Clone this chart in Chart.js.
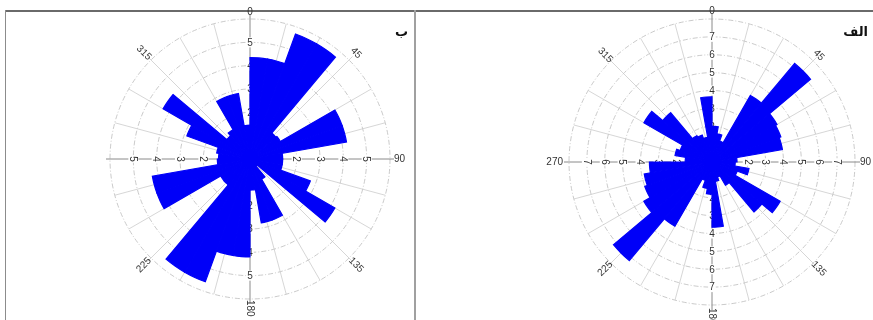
<!DOCTYPE html>
<html>
<head>
<meta charset="utf-8">
<script src="https://cdn.jsdelivr.net/npm/chart.js@4.4.1/dist/chart.umd.min.js"></script>
<style>
  html, body { margin: 0; padding: 0; background: #fff; }
  body { width: 873px; height: 320px; position: relative; overflow: hidden; }
  canvas { position: absolute; top: 0; }
  .rule { position: absolute; background: #8c8c8c; }
  .title { position: absolute; font: bold 13px "DejaVu Sans", sans-serif; color: #111; direction: rtl; white-space: nowrap; }
</style>
</head>
<body>
<div class="rule" style="left:5px; top:10px; width:868px; height:1.5px; background:#6a6a6a;"></div>
<div class="rule" style="left:5px; top:10px; width:1.2px; height:310px;"></div>
<div class="rule" style="left:414px; top:10px; width:1.5px; height:310px; background:#a0a0a0;"></div>
<canvas id="roseB" width="415" height="320" style="left:0;"></canvas>
<canvas id="roseA" width="458" height="320" style="left:415px;"></canvas>
<div class="title" style="left:395px; top:24px;">ب</div>
<div class="title" style="right:5px; top:24px;">الف</div>
<script>
// Direction bins (start of each 10° class, clockwise from north)
const binStarts = [0, 10, 20, 30, 40, 50, 60, 70, 80, 90, 100, 110,
                   120, 130, 140, 150, 160, 170, 180, 190, 200, 210, 220, 230,
                   240, 250, 260, 270, 280, 290, 300, 310, 320, 330, 340, 350];

// Frequencies per bin, panel "ب"
const countsB = [4.35, 4.35, 5.7, 5.7, 1.45, 1.5, 4.2, 4.2, 1.4, 1.4, 1.4, 2.75,
                 4.2, 0.4, 1.0, 2.78, 2.78, 1.33, 4.2, 4.2, 5.6, 5.6, 1.45, 1.45,
                 4.25, 4.25, 1.4, 1.35, 1.45, 2.88, 4.3, 1.3, 1.45, 2.85, 2.85, 1.45];

// Frequencies per bin, panel "الف"
const countsA = [2.0, 1.6, 1.25, 4.3, 7.2, 4.2, 4.1, 4.0, 1.4, 1.3, 2.1, 1.5,
                 4.4, 3.65, 1.5, 0.9, 1.1, 3.65, 1.8, 1.5, 1.1, 4.15, 7.2, 4.4,
                 4.0, 3.85, 3.5, 1.5, 2.1, 1.9, 4.4, 3.6, 1.7, 1.6, 1.4, 3.65];

// Radial tick labels and outer limits
const ticksB = [1, 2, 3, 4, 5];
const ticksA = [1, 2, 3, 4, 5, 6, 7];
const maxB = 6;
const maxA = 8;

// Compass labels
const axisLabels = ['0', '90', '180', '270'];
const diagonalLabels = ['45', '135', '225', '315'];

const BLUE = 'rgb(0, 0, 248)';
const TICK_FONT = '10px "Liberation Sans", Arial, sans-serif';

function compassPlugin(cfg) {
  return {
    id: 'compass',
    beforeDatasetsDraw(chart) {
      const s = chart.scales.r;
      const ctx = chart.ctx;
      const cx = s.xCenter, cy = s.yCenter, R = s.drawingArea;
      const pt = (deg, r) => {
        const a = deg * Math.PI / 180;
        return [cx + r * Math.sin(a), cy - r * Math.cos(a)];
      };
      ctx.save();

      // light spokes every 15 degrees
      ctx.strokeStyle = '#cbcbcb';
      ctx.lineWidth = 0.8;
      for (let deg = 0; deg < 360; deg += 15) {
        if (deg % 90 === 0) continue;
        const ext = deg % 45 === 0 ? 5 : 0;
        const [x2, y2] = pt(deg, R + ext);
        ctx.beginPath();
        ctx.moveTo(cx, cy);
        ctx.lineTo(x2, y2);
        ctx.stroke();
      }

      // main axes
      ctx.strokeStyle = '#8a8a8a';
      ctx.lineWidth = 1;
      [0, 90, 180, 270].forEach((deg) => {
        const [x2, y2] = pt(deg, R + cfg.axisExt);
        ctx.beginPath();
        ctx.moveTo(cx, cy);
        ctx.lineTo(x2, y2);
        ctx.stroke();
      });

      // radial tick labels on the four half axes
      ctx.font = TICK_FONT;
      ctx.textAlign = 'center';
      ctx.textBaseline = 'middle';
      cfg.ticks.forEach((v) => {
        const d = s.getDistanceFromCenterForValue(v);
        const txt = String(v);
        const w = ctx.measureText(txt).width;
        [0, 90, 180, 270].forEach((deg) => {
          const [x, y] = pt(deg, d);
          ctx.save();
          ctx.translate(x, y);
          if (deg === 90 || deg === 270) ctx.rotate(Math.PI / 2);
          ctx.fillStyle = '#fff';
          ctx.fillRect(-w / 2 - 1, -5, w + 2, 10);
          ctx.fillStyle = '#333';
          ctx.fillText(txt, 0, 0.5);
          ctx.restore();
        });
      });

      // compass labels
      ctx.fillStyle = '#333';
      {
        const [x, y] = pt(0, R + cfg.northGap);
        ctx.textAlign = 'center';
        ctx.fillText(axisLabels[0], x, y);
      }
      {
        const [x, y] = pt(90, R + cfg.eastGap);
        ctx.textAlign = 'left';
        ctx.fillText(axisLabels[1], x, y);
      }
      {
        const w = ctx.measureText(axisLabels[2]).width;
        const [x, y] = pt(180, R + cfg.southGap + w / 2);
        ctx.save();
        ctx.translate(x, y);
        ctx.rotate(Math.PI / 2);
        ctx.textAlign = 'center';
        ctx.fillText(axisLabels[2], 0, 0);
        ctx.restore();
      }
      if (cfg.showWest) {
        const [x, y] = pt(270, R + cfg.westGap);
        ctx.textAlign = 'right';
        ctx.fillText(axisLabels[3], x, y);
      }
      const turns = [45, 45, -45, 45];
      [45, 135, 225, 315].forEach((deg, i) => {
        const [x, y] = pt(deg, R + cfg.diagGap);
        ctx.save();
        ctx.translate(x, y);
        ctx.rotate(turns[i] * Math.PI / 180);
        ctx.textAlign = 'center';
        ctx.fillText(diagonalLabels[i], 0, 0);
        ctx.restore();
      });

      ctx.restore();
    }
  };
}

function makeRose(id, counts, max, padding, cfg) {
  return new Chart(document.getElementById(id), {
    type: 'polarArea',
    data: {
      labels: binStarts.map((d) => d + '°'),
      datasets: [{
        data: counts,
        backgroundColor: BLUE,
        borderColor: BLUE,
        borderWidth: 1.2,
        borderJoinStyle: 'miter'
      }]
    },
    options: {
      responsive: false,
      animation: false,
      layout: { padding },
      plugins: { legend: { display: false }, tooltip: { enabled: false } },
      scales: {
        r: {
          min: 0,
          max: max,
          startAngle: 0,
          ticks: { display: false, stepSize: 1 },
          grid: { circular: true, color: '#bdbdbd', lineWidth: 0.8 },
          border: { dash: [5, 2, 1, 2] },
          angleLines: { display: false },
          pointLabels: { display: false }
        }
      }
    },
    plugins: [compassPlugin(cfg)]
  });
}

makeRose('roseB', countsB, maxB,
  { left: 110, right: 25, top: 19, bottom: 21 },
  { ticks: ticksB, axisExt: 4, northGap: 7, eastGap: 4, southGap: 1, westGap: 5, diagGap: 10, showWest: false });

makeRose('roseA', countsA, maxA,
  { left: 154, right: 18, top: 19, bottom: 15 },
  { ticks: ticksA, axisExt: 5, northGap: 8, eastGap: 5, southGap: 3, westGap: 6, diagGap: 8, showWest: true });
</script>
</body>
</html>
